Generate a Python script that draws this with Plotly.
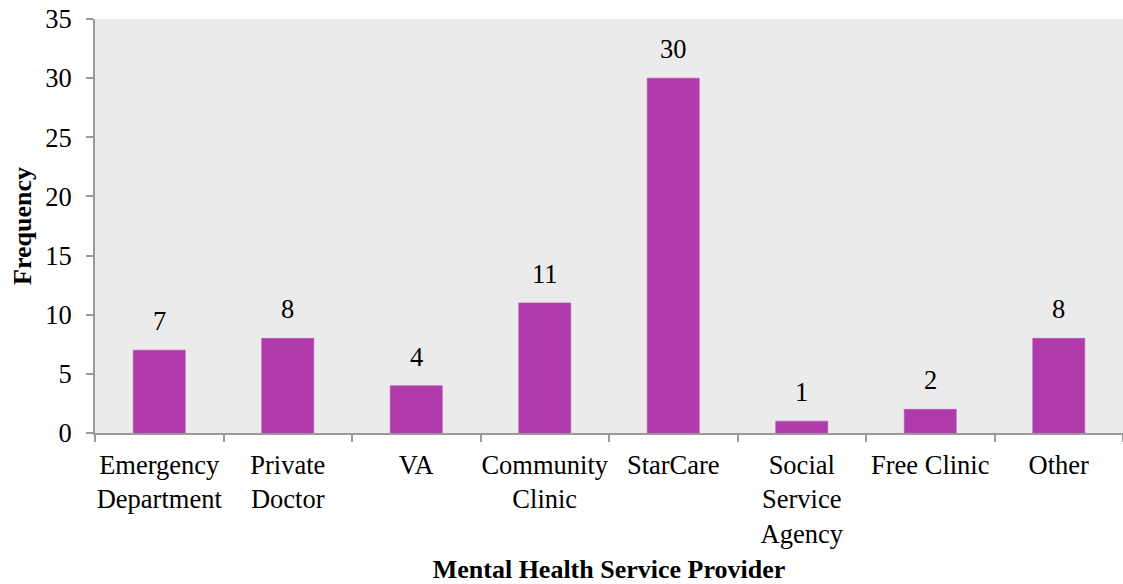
import plotly.graph_objects as go

categories = ["Emergency<br>Department", "Private<br>Doctor", "VA", "Community<br>Clinic",
              "StarCare", "Social<br>Service<br>Agency", "Free Clinic", "Other"]
frequency = [7, 8, 4, 11, 30, 1, 2, 8]
y_ticks = [0, 5, 10, 15, 20, 25, 30, 35]

serif = "Liberation Serif, Times New Roman, serif"
axis_grey = "#9a9a9a"
text_size = 26.5

fig = go.Figure(go.Bar(
    x=categories,
    y=frequency,
    width=0.405,
    marker=dict(color="#b03aab", line=dict(color="#b84fb3", width=0.6)),
))

# value labels sitting above each bar
for cat, val in zip(categories, frequency):
    fig.add_annotation(
        x=cat, y=val, text=str(val), showarrow=False,
        yanchor="middle", yshift=29,
        font=dict(family=serif, size=text_size, color="#000000"),
    )

fig.update_layout(
    width=1123, height=584,
    margin=dict(l=95, r=0, t=19, b=151),
    paper_bgcolor="#ffffff",
    plot_bgcolor="#ebebeb",
    showlegend=False,
    bargap=0.6,
    font=dict(family=serif, color="#000000"),
    xaxis=dict(
        type="category",
        tickson="boundaries",
        tickangle=0,
        automargin=False,
        ticks="outside", ticklen=7, tickwidth=1.5, tickcolor=axis_grey,
        showline=True, linecolor=axis_grey, linewidth=2,
        showgrid=False,
        tickfont=dict(family=serif, size=text_size),
        ticklabelstandoff=7,
        title=dict(text="<b>Mental Health Service Provider</b>",
                   font=dict(family=serif, size=26), standoff=14),
    ),
    yaxis=dict(
        range=[0, 35],
        tickvals=y_ticks,
        automargin=False,
        ticks="outside", ticklen=7, tickwidth=1.5, tickcolor=axis_grey,
        showline=True, linecolor=axis_grey, linewidth=2,
        showgrid=False, zeroline=False,
        tickfont=dict(family=serif, size=text_size),
        ticklabelstandoff=9,
        title=dict(text="<b>Frequency</b>",
                   font=dict(family=serif, size=26), standoff=6),
    ),
)

fig.write_html("out.html")
